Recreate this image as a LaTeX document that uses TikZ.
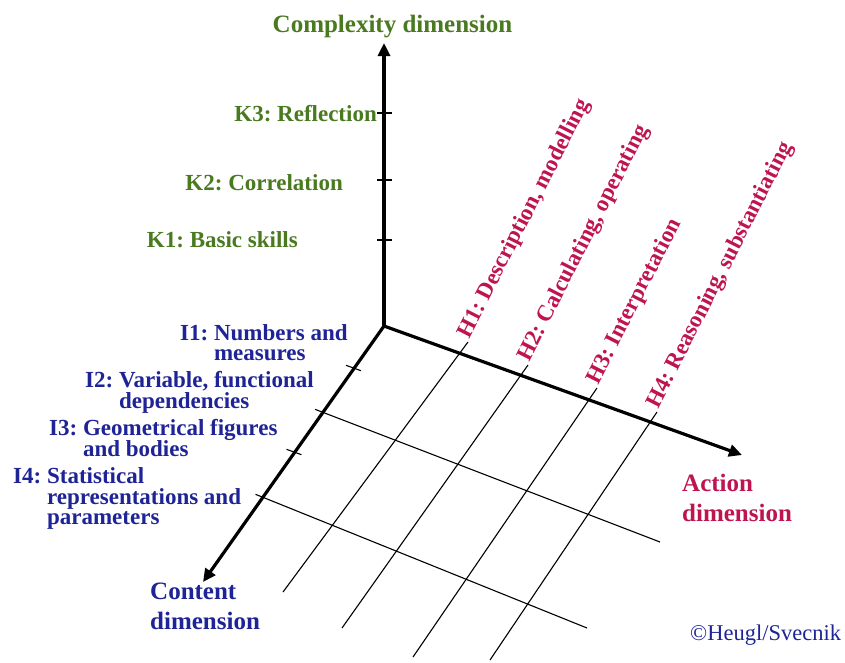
\documentclass[tikz,border=0pt]{standalone}
\usepackage{fontspec}
\setmainfont{Liberation Serif}
\usetikzlibrary{arrows.meta,calc}
\definecolor{kgreen}{RGB}{74,122,32}
\definecolor{hred}{RGB}{190,20,80}
\definecolor{iblue}{RGB}{30,35,150}
\frenchspacing
\begin{document}
\frenchspacing
\begin{tikzpicture}[x=1pt,y=-1pt,
  axis/.style={line width=3.2pt,-{Triangle[length=13pt,width=12pt]}},
  gridline/.style={line width=1.1pt},
  tickmark/.style={line width=1.1pt},
  ktext/.style={text=kgreen,font=\fontsize{23}{24}\selectfont\bfseries,inner sep=0pt,anchor=base east},
  itext/.style={text=iblue,font=\fontsize{23}{20}\selectfont\bfseries,inner sep=0pt,anchor=base west},
  htext/.style={text=hred,font=\fontsize{23}{24}\selectfont\bfseries,inner sep=0pt,anchor=base west,rotate=63},
  title/.style={font=\fontsize{25}{30}\selectfont\bfseries,inner sep=0pt,align=left}
]
\useasboundingbox (0,0) rectangle (845,662);
% axes
\coordinate (O) at (384,326);
\coordinate (Ztip) at (384,43);
\coordinate (Atip) at (742,455);
\coordinate (Ctip) at (203,582);
% K ticks
\coordinate (k3a) at (377,113); \coordinate (k3b) at (392,113);
\coordinate (k2a) at (377,180); \coordinate (k2b) at (392,180);
\coordinate (k1a) at (377,240); \coordinate (k1b) at (392,240);
% I ticks
\coordinate (i1a) at (346,365.3); \coordinate (i1b) at (361,370.7);
\coordinate (i2a) at (315,409.3); \coordinate (i2b) at (660,542);
\coordinate (i3a) at (286.5,449.3); \coordinate (i3b) at (301.5,454.7);
\coordinate (i4a) at (255.5,494.3); \coordinate (i4b) at (587,628);
% H lines
\coordinate (h1a) at (468,342); \coordinate (h1b) at (283,592);
\coordinate (h2a) at (528,365); \coordinate (h2b) at (342,628);
\coordinate (h3a) at (597,388); \coordinate (h3b) at (413,657);
\coordinate (h4a) at (657,412); \coordinate (h4b) at (490,660);

\draw[gridline] (i2a) -- (i2b);
\draw[gridline] (i4a) -- (i4b);
\draw[gridline] (h1a) -- (h1b);
\draw[gridline] (h2a) -- (h2b);
\draw[gridline] (h3a) -- (h3b);
\draw[gridline] (h4a) -- (h4b);
\draw[tickmark] (k3a) -- (k3b);
\draw[tickmark] (k2a) -- (k2b);
\draw[tickmark] (k1a) -- (k1b);
\draw[tickmark] (i1a) -- (i1b);
\draw[tickmark] (i3a) -- (i3b);

\draw[axis] (O) -- (Ztip);
\draw[axis] (O) -- (Atip);
\draw[axis] (O) -- (Ctip);

% titles
\node[title,text=kgreen,anchor=base] (ctitle) at (392.5,32) {Complexity dimension};
\node[title,text=hred,anchor=north west] (atitle) at (682,474) {Action\\dimension};
\node[title,text=iblue,anchor=north west] (ntitle) at (150,583) {Content\\dimension};

% K labels
\node[ktext] (k3) at (377,121) {K3: Reflection};
\node[ktext] (k2) at (343,190) {K2: Correlation};
\node[ktext] (k1) at (298,247) {K1: Basic skills};

% I labels
\node[itext] (i1) at (180,340) {\begin{tabular}[t]{@{}l@{}}I1: Numbers and\\\hphantom{I1: }measures\end{tabular}};
\node[itext] (i2) at (85,387) {\begin{tabular}[t]{@{}l@{}}I2: Variable, functional\\\hphantom{I2: }dependencies\end{tabular}};
\node[itext] (i3) at (49,435) {\begin{tabular}[t]{@{}l@{}}I3: Geometrical figures\\\hphantom{I3: }and bodies\end{tabular}};
\node[itext] (i4) at (13,483) {\begin{tabular}[t]{@{}l@{}}I4: Statistical\\\hphantom{I4: }representations and\\\hphantom{I4: }parameters\end{tabular}};

% H labels
\node[htext] (h1) at ($(h1a)+(1,-2)$) {H1: Description, modelling};
\node[htext] (h2) at ($(h2a)+(1,-2)$) {H2: Calculating, operating};
\node[htext] (h3) at ($(h3a)+(1,-2)$) {H3: Interpretation};
\node[htext] (h4) at ($(h4a)+(1,-2)$) {H4: Reasoning, substantiating};

% copyright
\node[text=iblue,font=\fontsize{22.5}{24}\selectfont,inner sep=0pt,anchor=base west] (copy) at (690,640) {©Heugl/Svecnik};
\end{tikzpicture}
\end{document}
